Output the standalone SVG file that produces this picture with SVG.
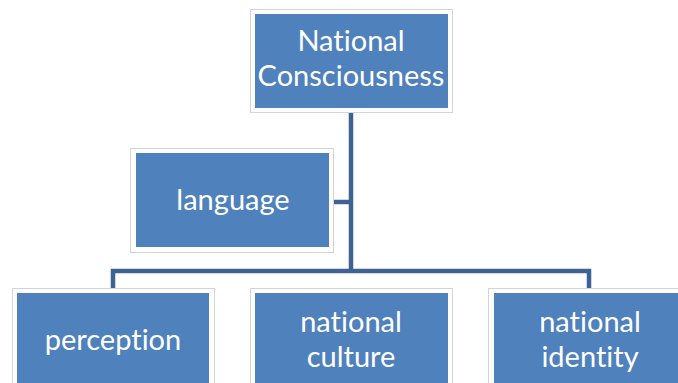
<svg xmlns="http://www.w3.org/2000/svg" width="678" height="383" viewBox="0 0 678 383">
<style>
.frame{fill:#ffffff;stroke:#d4d4d4;stroke-width:1}
.box{fill:#4f81bd}
.t{font-family:Lato,"Open Sans",sans-serif;font-size:29px;fill:#ffffff;text-anchor:middle;font-variant-ligatures:none}
.c{fill:none;stroke:#3d6293;stroke-width:4.5}
</style>
<rect width="678" height="383" fill="#ffffff"/>
<g id="connectors">
<path class="c" d="M351 110 V271"/>
<path class="c" d="M333 202 H351"/>
<path class="c" d="M113 290 V271 H589 V290"/>
</g>
<g id="n-top">
<rect class="frame" x="250.5" y="9.5" width="202" height="103"/>
<rect class="box" x="255" y="14" width="193" height="94"/>
<text class="t" x="351" y="50.5">National</text>
<text class="t" x="351" y="85.5">Consciousness</text>
</g>
<g id="n-language">
<rect class="frame" x="130.5" y="148.5" width="203" height="104"/>
<rect class="box" x="136" y="153" width="193" height="94"/>
<text class="t" x="233" y="210">language</text>
</g>
<g id="n-perception">
<rect class="frame" x="12.5" y="288.5" width="202" height="100"/>
<rect class="box" x="17" y="293" width="192" height="95"/>
<text class="t" x="113" y="350">perception</text>
</g>
<g id="n-culture">
<rect class="frame" x="250.5" y="288.5" width="202" height="100"/>
<rect class="box" x="255" y="293" width="193" height="95"/>
<text class="t" x="351" y="332">national</text>
<text class="t" x="351" y="367">culture</text>
</g>
<g id="n-identity">
<rect class="frame" x="488.5" y="288.5" width="202" height="100"/>
<rect class="box" x="494" y="293" width="193" height="95"/>
<text class="t" x="590" y="332">national</text>
<text class="t" x="590" y="367">identity</text>
</g>
</svg>
